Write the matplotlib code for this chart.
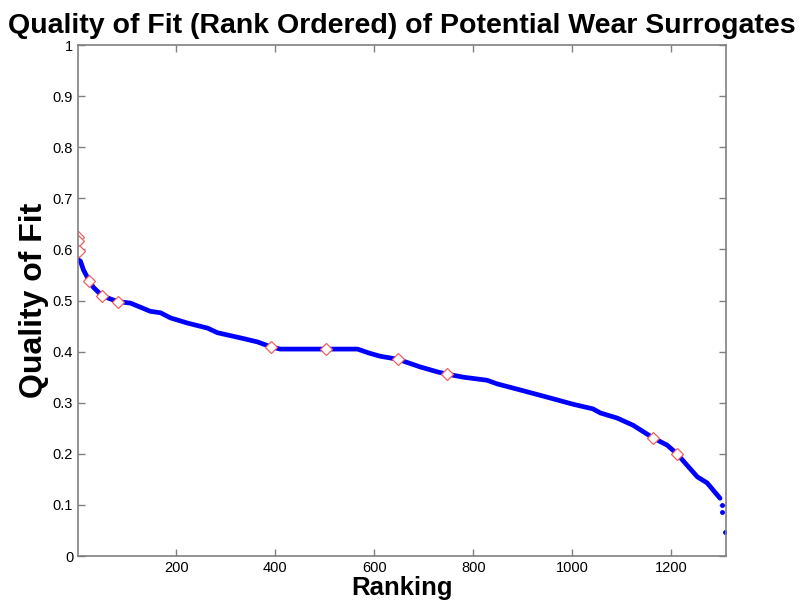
import numpy as np
import matplotlib
matplotlib.use("Agg")
import matplotlib.pyplot as plt

# rank-ordered quality of fit
rank = [1, 6, 12, 24, 32, 50, 67, 81, 107, 147, 168, 188, 222, 263, 283, 329, 364,
        392, 410, 503, 566, 590, 612, 648, 693, 729, 747, 780, 828, 848, 895, 949,
        1002, 1042, 1057, 1091, 1123, 1164, 1192, 1212, 1232, 1253, 1273, 1285, 1299]
fit = [0.580, 0.577, 0.560, 0.538, 0.526, 0.509, 0.503, 0.498, 0.495, 0.479, 0.476,
       0.466, 0.456, 0.446, 0.437, 0.427, 0.419, 0.409, 0.405, 0.405, 0.405, 0.397,
       0.391, 0.385, 0.370, 0.360, 0.356, 0.350, 0.344, 0.337, 0.325, 0.311, 0.297,
       0.288, 0.280, 0.270, 0.256, 0.231, 0.217, 0.200, 0.178, 0.155, 0.143, 0.129,
       0.113]
tail_rank = [1302, 1303, 1309]
tail_fit = [0.100, 0.086, 0.047]

# highlighted surrogates
sel_rank = [1, 1, 3, 24, 50, 81, 392, 503, 648, 747, 1164, 1212]
sel_fit = [0.624, 0.616, 0.597, 0.538, 0.509, 0.498, 0.409, 0.405, 0.385, 0.356,
           0.231, 0.200]

fig = plt.figure(figsize=(8, 6.09), dpi=100)
ax = fig.add_axes([0.0975, 0.087, 0.81, 0.839])

ax.plot(rank, fit, '-', color='#0000ff', linewidth=3.4, solid_capstyle='round')
ax.plot(tail_rank, tail_fit, '.', color='#0000ff', markersize=5)
ax.plot(sel_rank, sel_fit, 'D', markerfacecolor='white', markeredgecolor='#f06060',
        markeredgewidth=0.9, markersize=6, linestyle='none')

ax.set_xlim(1, 1311)
ax.set_ylim(0, 1)
ax.set_xticks([200, 400, 600, 800, 1000, 1200])
ax.set_yticks(np.arange(0, 1.01, 0.1))
ax.set_yticklabels(['0', '0.1', '0.2', '0.3', '0.4', '0.5', '0.6', '0.7', '0.8', '0.9', '1'])

for s in ax.spines.values():
    s.set_color('#808080')
    s.set_linewidth(1.2)
ax.tick_params(direction='in', length=5, width=1, colors='#808080', labelcolor='black',
               labelsize=10.5, top=True, right=True)
for lab in ax.get_xticklabels() + ax.get_yticklabels():
    lab.set_family('Liberation Sans')

ax.set_title('Quality of Fit (Rank Ordered) of Potential Wear Surrogates',
             fontsize=20.5, fontweight='bold', family='Liberation Sans', pad=9)
ax.set_xlabel('Ranking', fontsize=18.5, fontweight='bold', family='Liberation Sans', labelpad=1)
ax.set_ylabel('Quality of Fit', fontsize=23, fontweight='bold', family='Liberation Sans', labelpad=3)

fig.savefig('out.png', dpi=100)
